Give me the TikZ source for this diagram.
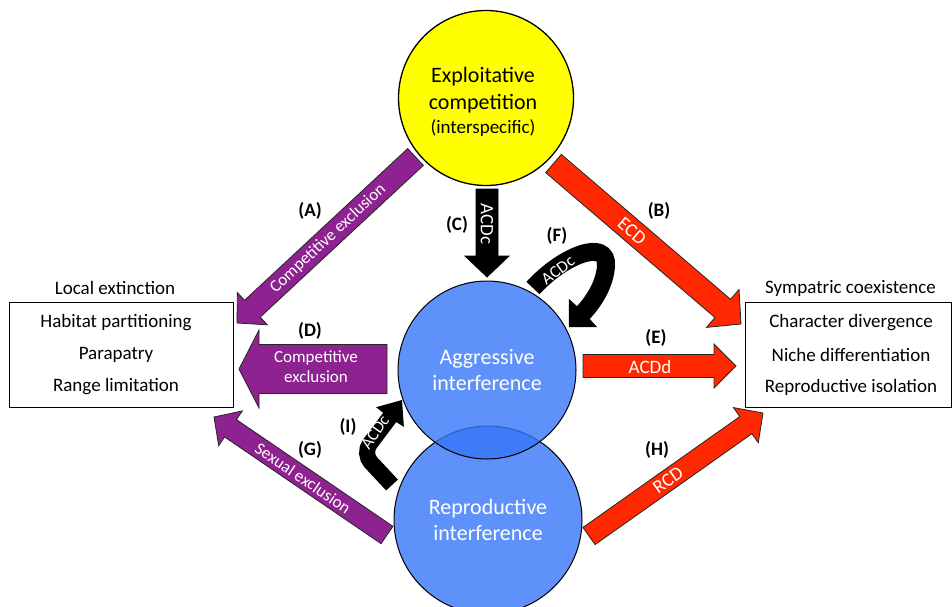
\documentclass[tikz,border=0pt]{standalone}
\usepackage{fontspec}
\setmainfont{Carlito}
\usetikzlibrary{calc}
\definecolor{ypurple}{RGB}{142,34,145}
\definecolor{yred}{RGB}{255,40,0}
\definecolor{yblue}{RGB}{55,118,249}
\definecolor{yyellow}{RGB}{255,255,0}
% #1 style, #2 tail coordinate, #3 tip coordinate, #4 half shaft, #5 half head, #6 head length
\newcommand\blkarrow[6]{%
  \coordinate (ba-h) at ($(#3)!#6!(#2)$);
  \draw[#1] ($(#2)!#4!90:(#3)$) -- ($(ba-h)!#4!-90:(#2)$) -- ($(ba-h)!#5!-90:(#2)$)
     -- (#3) -- ($(ba-h)!#5!90:(#2)$) -- ($(ba-h)!#4!90:(#2)$) -- ($(#2)!#4!-90:(#3)$) -- cycle;}
\newcommand\blkhead[4]{% #1 style, #2 base, #3 tip, #4 half width
  \fill[#1] ($(#2)!#4!90:(#3)$) -- (#3) -- ($(#2)!#4!-90:(#3)$) -- ($(#2)!-1pt!(#3)$) -- cycle;}
\tikzset{
  lab/.style={font=\bfseries\fontsize{19}{23}\selectfont, inner sep=0},
  atxt/.style={text=white, font=\fontsize{17}{20}\selectfont, inner sep=0, align=center},
  atxtb/.style={text=white, font=\fontsize{19}{22}\selectfont, inner sep=0},
  purplearrow/.style={fill=ypurple, draw=black!85, line width=0.8pt, line join=miter},
  redarrow/.style={fill=yred, draw=black!85, line width=0.8pt, line join=miter},
  blackarrow/.style={fill=black, draw=black, line width=0.8pt, line join=miter},
  bluecirc/.style={circle, draw=black, line width=1pt, fill=yblue, fill opacity=0.8,
    text opacity=1, text=white, inner sep=0, align=center, font=\fontsize{22}{26.5}\selectfont},
  ytxt/.style={font=\fontsize{22}{26}\selectfont, inner sep=0},
  boxtxt/.style={font=\fontsize{19}{23}\selectfont, inner sep=0},
  tbox/.style={draw=black, line width=1pt, inner sep=0},
}
\begin{document}
\begin{tikzpicture}[x=1pt,y=-1pt]
\useasboundingbox (0,0) rectangle (952,606);

% circles
\node[bluecirc, minimum size=188pt] (rep) at (488,520) {Reproductive\\interference};
\node[bluecirc, minimum size=178pt] (agg) at (487,370) {Aggressive\\interference};
\node[circle, draw=black, line width=1.3pt, fill=yyellow, minimum size=175pt, inner sep=0] (exp) at (486,98) {};
\node[ytxt] (exp1) at (483,77) {Exploitative};
\node[ytxt] (exp2) at (483,104) {competition};
\node[font=\fontsize{19}{22}\selectfont, inner sep=0] (exp3) at (483,128) {(interspecific)};

% boxes
\node[tbox, minimum width=224pt, minimum height=105pt] (lbox) at (121,354.5) {};
\node[boxtxt] (ltitle) at (115,288) {Local extinction};
\node[boxtxt] (l1) at (116,323) {Habitat partitioning};
\node[boxtxt] (l2) at (116,355) {Parapatry};
\node[boxtxt] (l3) at (116,387) {Range limitation};

\node[tbox, minimum width=206pt, minimum height=105pt] (rbox) at (848,354.5) {};
\node[boxtxt] (rtitle) at (850.5,288) {Sympatric coexistence};
\node[boxtxt] (r1) at (851,323) {Character divergence};
\node[boxtxt] (r2) at (851,355) {Niche differentiation};
\node[boxtxt] (r3) at (851,387) {Reproductive isolation};

% arrow end points
\coordinate (A1) at (415.5,157); \coordinate (A2) at (237,323);
\coordinate (B1) at (553.5,163.5); \coordinate (B2) at (741,324);
\coordinate (C1) at (487,189); \coordinate (C2) at (487,277);
\coordinate (D1) at (387,369); \coordinate (D2) at (239,369);
\coordinate (E1) at (583,366); \coordinate (E2) at (736,366);
\coordinate (G1) at (387,535); \coordinate (G2) at (214,417);
\coordinate (H1) at (589,536); \coordinate (H2) at (763,413);

\blkarrow{purplearrow}{A1}{A2}{11.5pt}{22pt}{21pt}
\blkarrow{redarrow}{B1}{B2}{12pt}{25pt}{24pt}
\blkarrow{blackarrow}{C1}{C2}{11pt}{22pt}{21pt}
\blkarrow{purplearrow}{D1}{D2}{24.5pt}{39pt}{20pt}
\blkarrow{redarrow}{E1}{E2}{11.5pt}{22pt}{22pt}
\blkarrow{purplearrow}{G1}{G2}{10.5pt}{21pt}{20pt}
\blkarrow{redarrow}{H1}{H2}{10.5pt}{21.5pt}{21pt}

% curved arrow F
\coordinate (F0) at (533,288); \coordinate (Fb) at (583,313); \coordinate (Ft) at (569,327);
\draw[line width=18pt] (F0) .. controls (563,255) and (608,238) .. (606,266)
   .. controls (605,282) and (596,299) .. (Fb);
\blkhead{black}{Fb}{Ft}{20pt}

% bent arrow I
\coordinate (I0) at (392,485); \coordinate (Ic) at (362.6,453.5);
\coordinate (Ib) at (390,417); \coordinate (It) at (402,400);
\draw[line width=16pt, rounded corners=12pt] (I0) -- (Ic) -- (Ib);
\blkhead{black}{Ib}{It}{17pt}

% arrow texts
\node[atxt, rotate=43] (tA) at (328,238.5) {Competitive exclusion};
\node[atxtb, rotate=-40.7] (tB) at (632,231) {ECD};
\node[atxtb, rotate=-90] (tC) at (487,224) {ACDc};
\node[atxt] (tD) at (316,367) {Competitive\\exclusion};
\node[atxtb] (tE) at (650,367) {ACDd};
\node[atxt, rotate=36] (tF) at (558,270) {ACDc};
\node[atxt, rotate=-34.3] (tG) at (303,478) {Sexual exclusion};
\node[atxtb, rotate=35.3] (tH) at (668,480) {RCD};
\node[atxt, rotate=55] (tI) at (375,432) {ACDc};

% letter labels
\node[lab] (lA) at (310,211) {(A)};
\node[lab] (lB) at (659,211) {(B)};
\node[lab] (lC) at (457,225) {(C)};
\node[lab] (lD) at (310,331) {(D)};
\node[lab] (lE) at (656,338) {(E)};
\node[lab] (lF) at (557,236) {(F)};
\node[lab] (lG) at (310,450) {(G)};
\node[lab] (lH) at (657,450) {(H)};
\node[lab] (lI) at (348,427) {(I)};
\end{tikzpicture}
\end{document}
